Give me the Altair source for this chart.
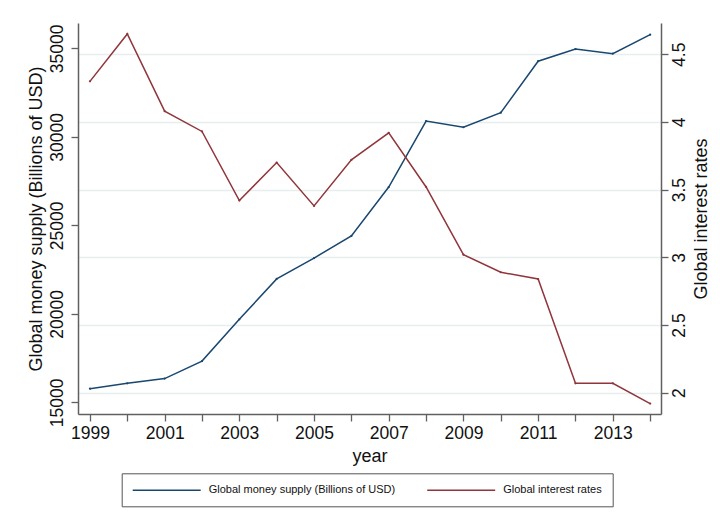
import altair as alt
import pandas as pd

years = list(range(1999, 2015))
money_supply = [15770, 16070, 16340, 17330, 19690, 21970, 23150, 24400,
                27160, 30890, 30540, 31360, 34270, 34960, 34700, 35770]
interest_rates = [4.30, 4.65, 4.08, 3.93, 3.42, 3.70, 3.38, 3.72,
                  3.92, 3.52, 3.02, 2.89, 2.84, 2.07, 2.07, 1.92]

series_names = ["Global money supply (Billions of USD)", "Global interest rates"]
series_colors = ["#1a476f", "#90353b"]
left_ticks = [15000, 20000, 25000, 30000, 35000]
right_ticks = [2, 2.5, 3, 3.5, 4, 4.5]

df = pd.DataFrame({"year": years, "money": money_supply, "rate": interest_rates})

FONT = "Liberation Sans"
AXIS_COLOR = "#606060"

x_enc = alt.X(
    "year:Q",
    scale=alt.Scale(domain=[1998.68, 2014.29], nice=False, zero=False),
    axis=alt.Axis(
        title="year", values=years, format="d",
        labelExpr="datum.value % 2 == 1 ? datum.label : ''",
        grid=False, labelFlush=False, labelOverlap=False,
        labelBaseline="alphabetic", labelPadding=17,
        titleX=291.5, titleY=47.5, titleBaseline="alphabetic",
    ),
)

color_enc_scale = alt.Scale(domain=series_names, range=series_colors)

legend = alt.Legend(
    title=None, orient="none", legendX=43.7, legendY=450.3,
    direction="horizontal", columns=2,
    symbolType="M-6.8,0H6.8", symbolSize=100, symbolStrokeWidth=1.5,
    symbolOffset=28, labelOffset=36, labelFontSize=11, labelFont=FONT,
    labelColor="#111", labelLimit=400, padding=11, columnPadding=28.5,
    strokeColor="#555",
)

money_line = alt.Chart(df).mark_line(
    strokeWidth=1.5,
    point=alt.OverlayMarkDef(size=5, filled=True),
).encode(
    x=x_enc,
    y=alt.Y(
        "money:Q",
        scale=alt.Scale(domain=[14339, 36430], nice=False, zero=False),
        axis=alt.Axis(
            title="Global money supply (Billions of USD)", orient="left",
            values=left_ticks, format="d", grid=False, labelAngle=270,
            labelAlign="center", labelBaseline="alphabetic", labelPadding=9,
            titleAngle=270, titleX=-37, titleY=195.5,
            titleBaseline="alphabetic", titleAlign="center",
        ),
    ),
    color=alt.Color("s:N", scale=color_enc_scale, legend=legend),
).transform_calculate(s=f"'{series_names[0]}'")

rate_line = alt.Chart(df).mark_line(
    strokeWidth=1.5,
    point=alt.OverlayMarkDef(size=5, filled=True),
).encode(
    x=x_enc,
    y=alt.Y(
        "rate:Q",
        scale=alt.Scale(domain=[1.843, 4.731], nice=False, zero=False),
        axis=alt.Axis(
            title="Global interest rates", orient="right",
            values=right_ticks, format="~g", grid=True, gridColor="#e6eeef",
            gridWidth=1.3,
            labelAngle=270, labelAlign="center", labelBaseline="alphabetic",
            labelPadding=16,
            titleAngle=270, titleX=45, titleY=195.5,
            titleBaseline="alphabetic", titleAlign="center",
        ),
    ),
    color=alt.Color("s:N", scale=color_enc_scale, legend=legend),
).transform_calculate(s=f"'{series_names[1]}'")

chart = alt.layer(money_line, rate_line).resolve_scale(
    y="independent"
).properties(
    width=583, height=391,
    autosize=alt.AutoSizeParams(type="none"),
    padding={"left": 70, "top": 15, "right": 51, "bottom": 109},
    background="white",
).configure_view(
    stroke=None
).configure_axis(
    labelFont=FONT, titleFont=FONT, labelFontSize=17.5, titleFontSize=18,
    titleFontWeight="normal", labelColor="#111", titleColor="#111",
    domainColor=AXIS_COLOR, domainWidth=1.5, tickColor=AXIS_COLOR,
    tickWidth=1.3, tickSize=7,
)

chart.save("out.html", embed_options={"renderer": "svg", "actions": False})
